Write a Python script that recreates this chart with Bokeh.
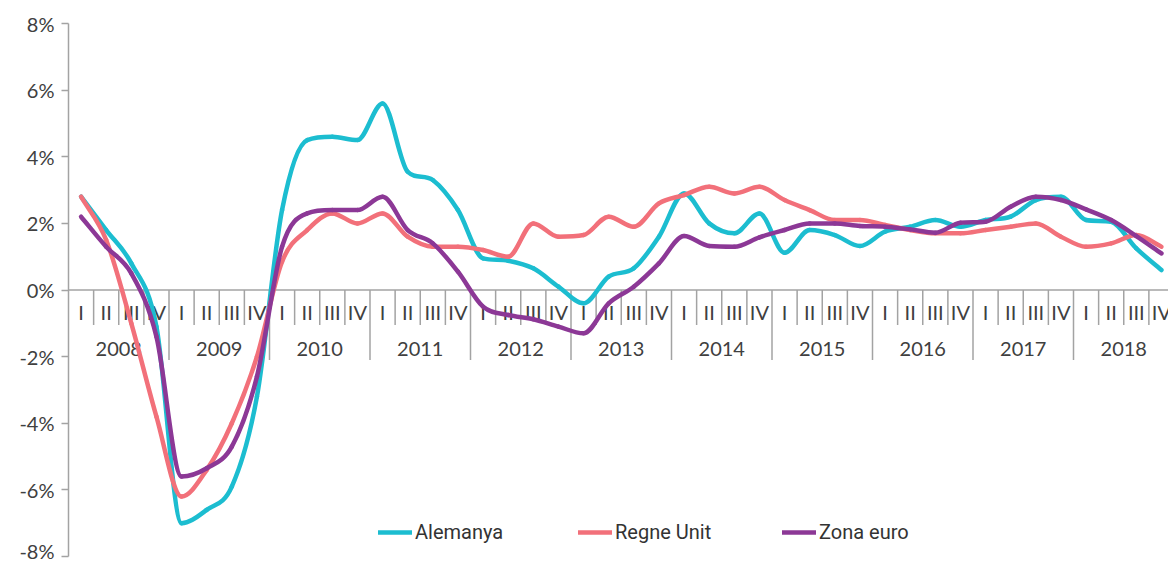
import numpy as np
from bokeh.plotting import figure
from bokeh.models import Range1d, FixedTicker, Span, Legend, LegendItem, ColumnDataSource
from bokeh.core.properties import value
from bokeh.embed import file_html
from bokeh.resources import INLINE

# ---------------- data ----------------
years = [str(y) for y in range(2008, 2019)]
quarters = ["I", "II", "III", "IV"]

alemanya = [2.8, 1.8, 0.8, -1.1, -7.0, -6.6, -5.9, -3.2, 2.4, 4.5, 4.6, 4.5,
            5.6, 3.55, 3.3, 2.4, 0.95, 0.88, 0.65, 0.1, -0.4, 0.4, 0.65, 1.6,
            2.9, 2.0, 1.7, 2.3, 1.12, 1.8, 1.65, 1.32, 1.75, 1.9, 2.1, 1.9,
            2.1, 2.2, 2.7, 2.8, 2.1, 2.05, 1.25, 0.6]
regne_unit = [2.8, 1.5, -1.0, -3.8, -6.2, -5.4, -4.0, -2.0, 0.85, 1.8, 2.3, 2.0,
              2.3, 1.6, 1.3, 1.3, 1.2, 1.0, 2.0, 1.6, 1.65, 2.2, 1.9, 2.6,
              2.85, 3.1, 2.9, 3.1, 2.7, 2.4, 2.1, 2.1, 1.95, 1.8, 1.7, 1.7,
              1.8, 1.9, 2.0, 1.6, 1.3, 1.4, 1.65, 1.3]
zona_euro = [2.2, 1.3, 0.5, -1.4, -5.6, -5.35, -4.7, -2.6, 1.3, 2.3, 2.4, 2.4,
             2.8, 1.8, 1.4, 0.55, -0.5, -0.75, -0.88, -1.1, -1.3, -0.4, 0.1, 0.8,
             1.62, 1.32, 1.3, 1.58, 1.8, 2.0, 2.0, 1.92, 1.9, 1.82, 1.72, 2.02,
             2.05, 2.5, 2.8, 2.7, 2.42, 2.1, 1.62, 1.1]

series_names = ["Alemanya", "Regne Unit", "Zona euro"]
series_colors = ["#1CBDD0", "#F2707A", "#8C3896"]

y_ticks = [-8, -6, -4, -2, 0, 2, 4, 6, 8]
y_tick_labels = {t: f"{t}%" for t in y_ticks}

# ---------------- figure ----------------
PX_PER_Q = 25.125
FRAME_W = 1100
FRAME_H = 533

p = figure(frame_width=FRAME_W, frame_height=FRAME_H,
           x_range=Range1d(0, FRAME_W / PX_PER_Q), y_range=Range1d(-8, 8),
           output_backend="svg", toolbar_location=None, x_axis_location=None,
           min_border_left=68, min_border_right=0, min_border_top=23, min_border_bottom=6)
p.outline_line_color = None
p.grid.visible = False
p.background_fill_color = "white"

AXIS_COL = "#A3A3A3"
TXT_COL = "#404040"
FONT = "Lato"

ax = p.yaxis[0]
ax.ticker = FixedTicker(ticks=y_ticks)
ax.major_label_overrides = y_tick_labels
ax.axis_line_color = AXIS_COL
ax.axis_line_width = 1.5
ax.major_tick_line_color = AXIS_COL
ax.major_tick_line_width = 1.5
ax.major_tick_out = 7
ax.major_tick_in = 0
ax.minor_tick_line_color = None
ax.major_label_text_font = FONT
ax.major_label_text_font_size = "20px"
ax.major_label_text_color = TXT_COL
ax.major_label_standoff = 7

# zero axis line
zero = Span(location=0, dimension="width", line_color=AXIS_COL, line_width=1.5, level="underlay")
p.add_layout(zero)

n = len(years) * len(quarters)
xq = np.arange(n) + 0.5

# separators between quarters (long ones between years)
bounds = np.arange(1, n + 1)
lens = np.where(bounds % len(quarters) == 0, 70, 35)
p.ray(x=bounds, y=np.zeros(len(bounds)), length=lens, angle=-np.pi / 2,
      length_units="screen", line_color=AXIS_COL, line_width=1.5)

# quarter labels
q_labels = [q for _ in years for q in quarters]
p.text(x=xq, y=np.zeros(n), text=q_labels, y_offset=22, text_align="center",
       text_baseline="middle", text_font=value(FONT), text_font_size="20px",
       text_color=TXT_COL)

# year labels
y_centers = np.arange(len(years)) * len(quarters) + len(quarters) / 2
p.text(x=y_centers, y=np.zeros(len(years)), text=years, y_offset=59, text_align="center",
       text_baseline="middle", text_font=value(FONT), text_font_size="20px",
       text_color=TXT_COL)

# ---------------- smoothed series (monotone cubic rendered as bezier) ----------------
def smooth_source(vals):
    y = np.asarray(vals, dtype=float)
    x = xq
    h = np.diff(x)
    d = np.diff(y) / h
    m = np.zeros_like(y)
    m[0], m[-1] = d[0], d[-1]
    for i in range(1, len(y) - 1):
        if d[i - 1] * d[i] <= 0:
            m[i] = 0.0
        else:
            m[i] = (d[i - 1] + d[i]) / 2.0
            lim = 3.0 * min(abs(d[i - 1]), abs(d[i]))
            if abs(m[i]) > lim:
                m[i] = np.sign(m[i]) * lim
    x0, y0 = x[:-1], y[:-1]
    x1, y1 = x[1:], y[1:]
    cx0 = x0 + h / 3.0
    cy0 = y0 + m[:-1] * h / 3.0
    cx1 = x1 - h / 3.0
    cy1 = y1 - m[1:] * h / 3.0
    return ColumnDataSource(dict(x0=x0, y0=y0, x1=x1, y1=y1,
                                 cx0=cx0, cy0=cy0, cx1=cx1, cy1=cy1))

renderers = []
for vals, col in zip([alemanya, regne_unit, zona_euro], series_colors):
    r = p.bezier(x0="x0", y0="y0", x1="x1", y1="y1", cx0="cx0", cy0="cy0",
                 cx1="cx1", cy1="cy1", source=smooth_source(vals),
                 line_color=col, line_width=4.5, line_cap="round")
    renderers.append(r)

# ---------------- legends ----------------
legend_x = [310, 510, 714]
for name, r, lx in zip(series_names, renderers, legend_x):
    leg = Legend(items=[LegendItem(label=name, renderers=[r])], location=(lx, 12),
                 orientation="horizontal", glyph_width=34, glyph_height=20,
                 label_standoff=3, padding=0, margin=0, spacing=0,
                 border_line_color=None, background_fill_alpha=0,
                 label_text_font="Roboto", label_text_font_size="20px",
                 label_text_color="#333333")
    p.add_layout(leg)

open("out.html", "w").write(file_html(p, INLINE))
